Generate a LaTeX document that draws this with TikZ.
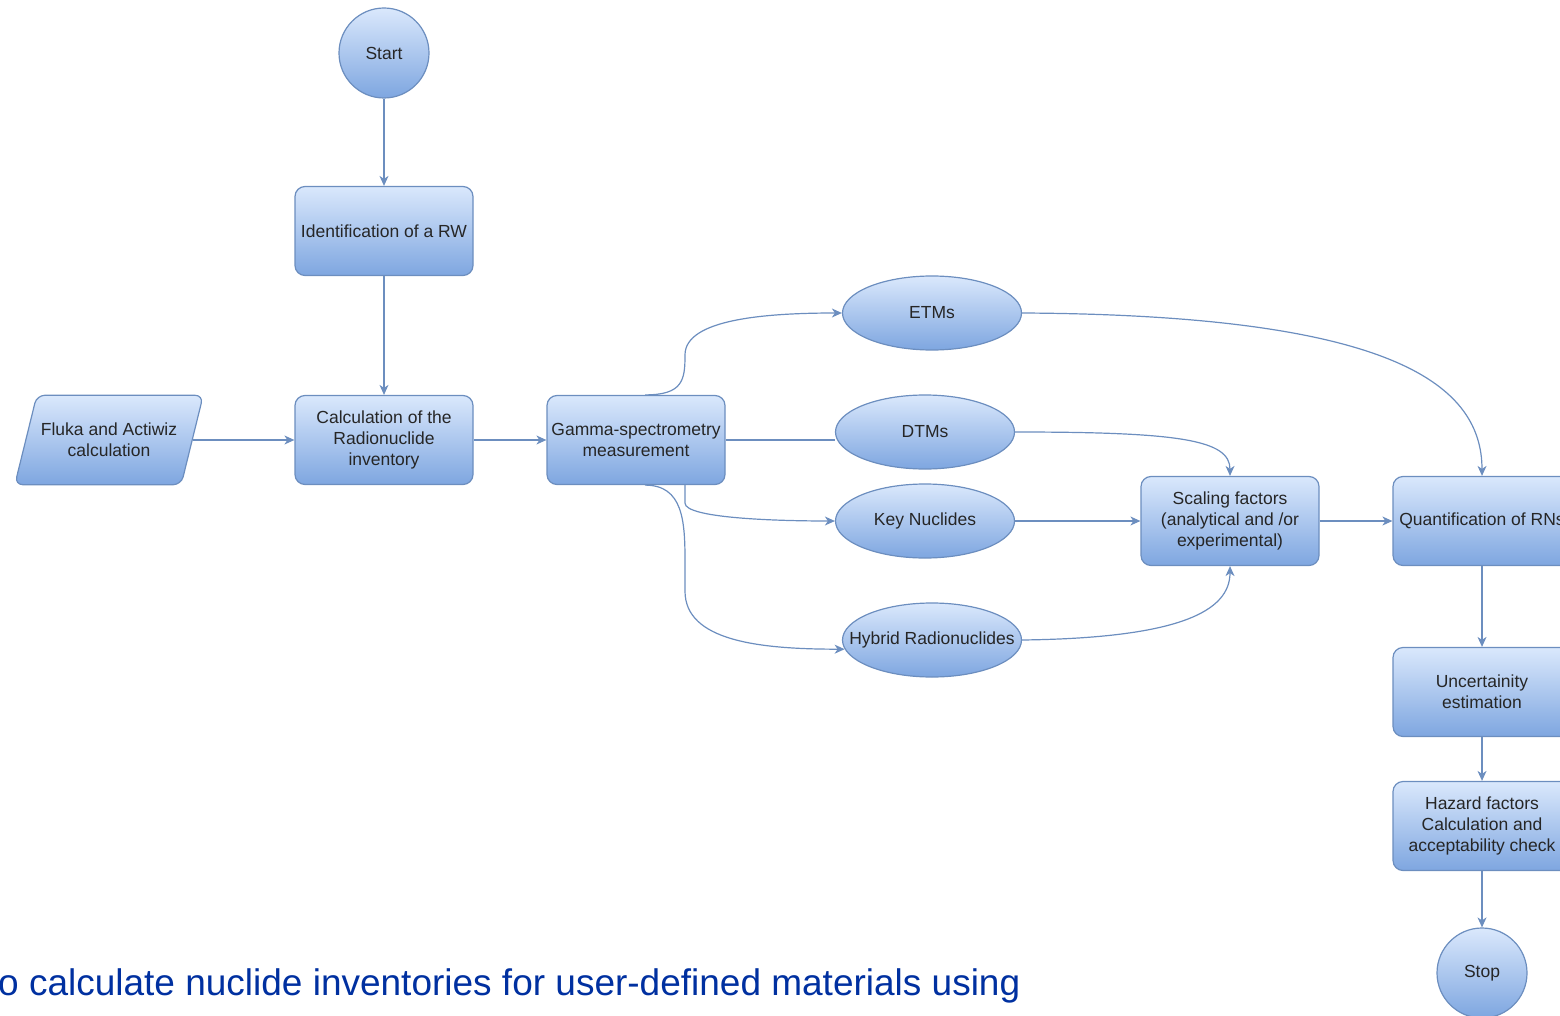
\documentclass[tikz,border=0pt]{standalone}
\usepackage{fontspec}
\setmainfont{Liberation Sans}
\usetikzlibrary{arrows.meta,shapes.geometric,calc,backgrounds}
\definecolor{strokeblue}{HTML}{6C8EBF}
\definecolor{filltop}{HTML}{DAE8FC}
\definecolor{fillbot}{HTML}{7EA6E0}
\definecolor{txt}{HTML}{262626}
\definecolor{captionblue}{RGB}{0,48,160}
\begin{document}
\begin{tikzpicture}[x=1pt,y=-1pt,
  shapefill/.style={draw=strokeblue, line width=1.2pt, top color=filltop, bottom color=fillbot},
  base/.style={shapefill, text=txt, font=\fontsize{17.5}{21}\selectfont, align=center, inner sep=0pt},
  procbox/.style={base, rectangle, rounded corners=10pt, minimum width=178pt, minimum height=89pt},
  oval/.style={base, ellipse, minimum width=179pt, minimum height=74pt},
  term/.style={base, circle, minimum size=90pt},
  iotext/.style={text=txt, font=\fontsize{17.5}{21}\selectfont, align=center, inner sep=0pt,
    minimum width=166pt, minimum height=89pt},
  edge/.style={draw=strokeblue, line width=1.2pt},
  arr/.style={edge, -{Stealth[length=10pt,width=9pt,inset=3pt]}}
]
\useasboundingbox (0,0) rectangle (1560,1016);

% nodes
\node[term] (start) at (384,53) {Start};
\node[procbox] (ident) at (384,231) {Identification of a RW};
\node[procbox] (calc) at (384,440) {Calculation of the\\Radionuclide\\inventory};
\node[iotext] (fluka) at (109,440) {Fluka and Actiwiz\\calculation};
\begin{scope}[on background layer]
  \path[shapefill, rounded corners=8pt]
    ($(fluka.south west)+(-11,0)$) -- ($(fluka.north west)+(11,0)$) --
    ($(fluka.north east)+(11,0)$) -- ($(fluka.south east)+(-11,0)$) -- cycle;
\end{scope}
\node[procbox] (gamma) at (636,440) {Gamma-spectrometry\\measurement};
\node[oval] (etms) at (932,313) {ETMs};
\node[oval] (dtms) at (925,432) {DTMs};
\node[oval] (key) at (925,521) {Key Nuclides};
\node[oval] (hybrid) at (932,640) {\makebox[0pt]{Hybrid Radionuclides}};
\node[procbox] (scaling) at (1230,521) {Scaling factors\\(analytical and /or\\experimental)};
\node[procbox] (quant) at (1482,521) {Quantification of RNs};
\node[procbox] (uncert) at (1482,692) {Uncertainity\\estimation};
\node[procbox] (hazard) at (1482,826) {Hazard factors\\Calculation and\\acceptability check};
\node[term] (stop) at (1482,973) {Stop};

% caption
\node[anchor=base west, inner sep=0pt, text=captionblue, font=\fontsize{37}{44}\selectfont] (caption) at (-2,995)
  {o calculate nuclide inventories for user-defined materials using};

% connectors
\draw[arr] (start) -- (ident);
\draw[arr] (ident) -- (calc);
\draw[arr] ($(fluka.east)+(1,0)$) -- (calc.west);
\draw[arr] (calc) -- (gamma);
\draw[arr] ($(gamma.north)+(9,0)$) .. controls +(38,0) and +(0,25) .. ($(gamma.north)+(49,-40)$)
   .. controls +(0,-35) and +(-80,0) .. (etms.west);
\draw[edge] (gamma.east) -- (gamma.east -| dtms.west);
\draw[arr] ($(gamma.south)+(49,0)$) -- +(0,18) .. controls +(0,15) and +(-60,0) .. (key.west);
\draw[arr] ($(gamma.south)+(9,0)$) .. controls +(38,0) and +(0,-40) .. ($(gamma.south)+(49,76)$)
   -- ($(gamma.south)+(49,106)$) .. controls +(0,50) and +(-85,0) .. (hybrid.186);
\draw[arr] (etms.east) .. controls +(360,2) and +(0,-96) .. (quant.north);
\draw[arr] (dtms.east) .. controls +(165,0) and +(0,-36) .. (scaling.north);
\draw[arr] (key.east) -- (scaling.west);
\draw[arr] (hybrid.east) .. controls +(158,-2) and +(0,45) .. (scaling.south);
\draw[arr] (scaling) -- (quant);
\draw[arr] (quant) -- (uncert);
\draw[arr] (uncert) -- (hazard);
\draw[arr] (hazard) -- (stop);
\end{tikzpicture}
\end{document}
